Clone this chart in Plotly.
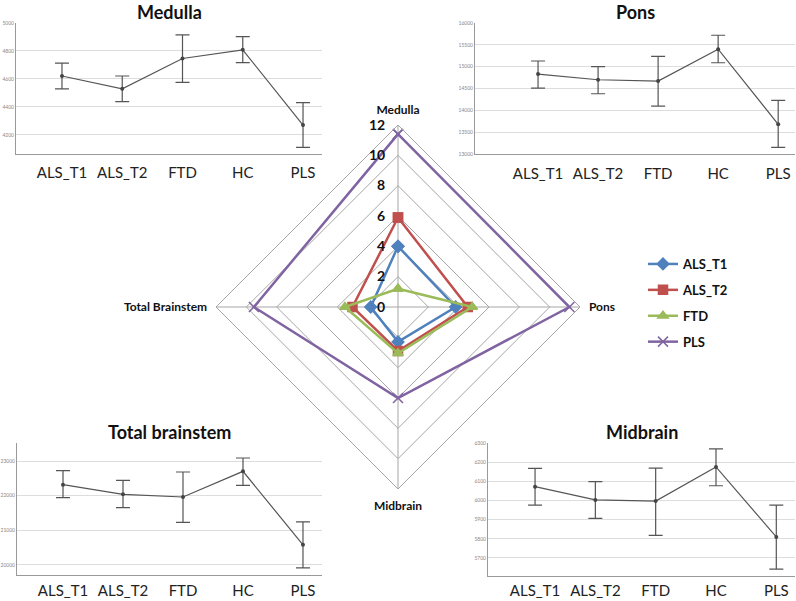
import plotly.graph_objects as go

W, H = 796, 601

# ---- data ----
groups = ["ALS_T1", "ALS_T2", "FTD", "HC", "PLS"]

medulla_mean = [4621, 4529, 4746, 4808, 4270]
medulla_upper = [4713, 4621, 4915, 4902, 4430]
medulla_lower = [4529, 4438, 4576, 4716, 4110]

pons_mean = [14830, 14700, 14670, 15400, 13680]
pons_upper = [15130, 15000, 15235, 15720, 14230]
pons_lower = [14510, 14380, 14095, 15090, 13150]

total_mean = [22317, 22038, 21962, 22702, 20580]
total_upper = [22721, 22442, 22683, 23087, 21246]
total_lower = [21942, 21654, 21231, 22298, 19913]

midbrain_mean = [6072, 6003, 5997, 6175, 5810]
midbrain_upper = [6168, 6098, 6169, 6269, 5976]
midbrain_lower = [5976, 5907, 5818, 6077, 5642]

radar_axes = ["Medulla", "Pons", "Midbrain", "Total Brainstem"]
radar_series = ["ALS_T1", "ALS_T2", "FTD", "PLS"]
radar_als_t1 = [4.0, 3.8, 2.3, 1.8]
radar_als_t2 = [5.9, 4.6, 2.9, 3.0]
radar_ftd = [1.2, 4.9, 3.05, 3.5]
radar_pls = [11.4, 11.3, 6.0, 9.5]

radar_colors = ["#4F81BD", "#C0504D", "#9BBB59", "#8064A2"]
radar_symbols = ["diamond", "square", "triangle-up", "x-thin"]

FONT = "Lato"


def px_x(p):
    return p / W


def px_y(p):
    return 1 - p / H


fig = go.Figure()

# ---- the four small line charts with error bars ----
panels = [
    # name, mean, upper, lower, axis suffix, x px domain, y px domain, x range, y range, dtick, label standoff
    ("Medulla", medulla_mean, medulla_upper, medulla_lower, "", (16, 322), (23, 154), (-0.763, 4.315), (4063, 5000), 200, 5),
    ("Pons", pons_mean, pons_upper, pons_lower, "2", (475, 795), (23, 154), (-1.05, 4.28), (13000, 16000), 500, 6),
    ("Total brainstem", total_mean, total_upper, total_lower, "3", (17, 322), (443, 575), (-0.767, 4.317), (19710, 23520), 1000, 2),
    ("Midbrain", midbrain_mean, midbrain_upper, midbrain_lower, "4", (488, 795), (443, 576), (-0.78, 4.31), (5606, 6300), 100, 1),
]

annotations = []
for name, mean, upper, lower, sfx, xd, yd, xr, yr, dt, so in panels:
    fig.add_trace(go.Scatter(
        x=groups, y=mean,
        mode="lines+markers",
        line=dict(color="#555555", width=1.2),
        marker=dict(color="#444444", size=4),
        error_y=dict(
            type="data", symmetric=False,
            array=[u - m for u, m in zip(upper, mean)],
            arrayminus=[m - l for m, l in zip(mean, lower)],
            color="#555555", thickness=1.2, width=7,
        ),
        xaxis="x" + sfx, yaxis="y" + sfx,
        showlegend=False,
    ))
    fig.layout["xaxis" + sfx] = dict(
        domain=[px_x(xd[0]), px_x(xd[1])],
        anchor="y" + sfx,
        type="category",
        range=list(xr),
        automargin=False,
        showgrid=False,
        showline=True, linecolor="#999999", linewidth=1,
        ticks="", ticklabelstandoff=so,
        tickfont=dict(family=FONT, size=15, color="#222222"),
        fixedrange=True,
    )
    fig.layout["yaxis" + sfx] = dict(
        domain=[px_y(yd[1]), px_y(yd[0])],
        anchor="x" + sfx,
        range=list(yr),
        dtick=dt,
        tickformat="d",
        automargin=False,
        showgrid=True, gridcolor="#dddddd", gridwidth=1,
        showline=True, linecolor="#999999", linewidth=1,
        zeroline=False,
        ticks="",
        tickfont=dict(family=FONT, size=5, color="#888888"),
        fixedrange=True,
    )
    cx = (xd[0] + xd[1]) / 2
    annotations.append(dict(
        text=name, x=px_x(cx), y=px_y(yd[0] - 11),
        xref="paper", yref="paper", xanchor="center", yanchor="middle",
        showarrow=False,
        font=dict(family=FONT, size=18, color="#111111", weight="bold"),
    ))

# ---- radar chart ----
radar_values = [radar_als_t1, radar_als_t2, radar_ftd, radar_pls]
for name, vals, col, sym in zip(radar_series, radar_values, radar_colors, radar_symbols):
    fig.add_trace(go.Scatterpolar(
        r=vals + vals[:1],
        theta=radar_axes + radar_axes[:1],
        mode="lines+markers",
        name=name,
        legendgroup=name,
        line=dict(color=col, width=2.5),
        marker=dict(color=col, symbol=sym, size=9 if sym != "x-thin" else 10,
                    line=dict(color=col, width=1.5)),
        subplot="polar",
    ))

GRID = "#a6a6a6"
fig.update_layout(
    template="none",
    width=W, height=H,
    margin=dict(l=0, r=0, t=0, b=0, autoexpand=False),
    paper_bgcolor="white",
    plot_bgcolor="white",
    annotations=annotations,
    polar=dict(
        domain=dict(x=[px_x(216), px_x(580)], y=[px_y(489), px_y(125)]),
        bgcolor="rgba(0,0,0,0)",
        gridshape="linear",
        radialaxis=dict(
            range=[0, 12], dtick=2, angle=90, tickangle=90,
            side="counterclockwise",
            ticksuffix="\u00a0\u00a0\u00a0",
            showline=False, ticks="",
            gridcolor=GRID, gridwidth=1,
            tickfont=dict(family=FONT, size=14, color="#111111", weight="bold"),
        ),
        angularaxis=dict(
            rotation=90, direction="clockwise",
            showline=True, linecolor=GRID, linewidth=1,
            gridcolor=GRID, gridwidth=1,
            ticks="outside", ticklen=6, tickcolor="rgba(0,0,0,0)",
            tickfont=dict(family=FONT, size=12, color="#111111", weight="bold"),
        ),
    ),
    legend=dict(
        x=px_x(643), y=px_y(249), xanchor="left", yanchor="top",
        bgcolor="rgba(0,0,0,0)",
        tracegroupgap=6,
        font=dict(family=FONT, size=13, color="#111111", weight="bold"),
    ),
)

fig.write_html("out.html", config={"displayModeBar": False},
               post_script="document.body.style.margin='0px';")
